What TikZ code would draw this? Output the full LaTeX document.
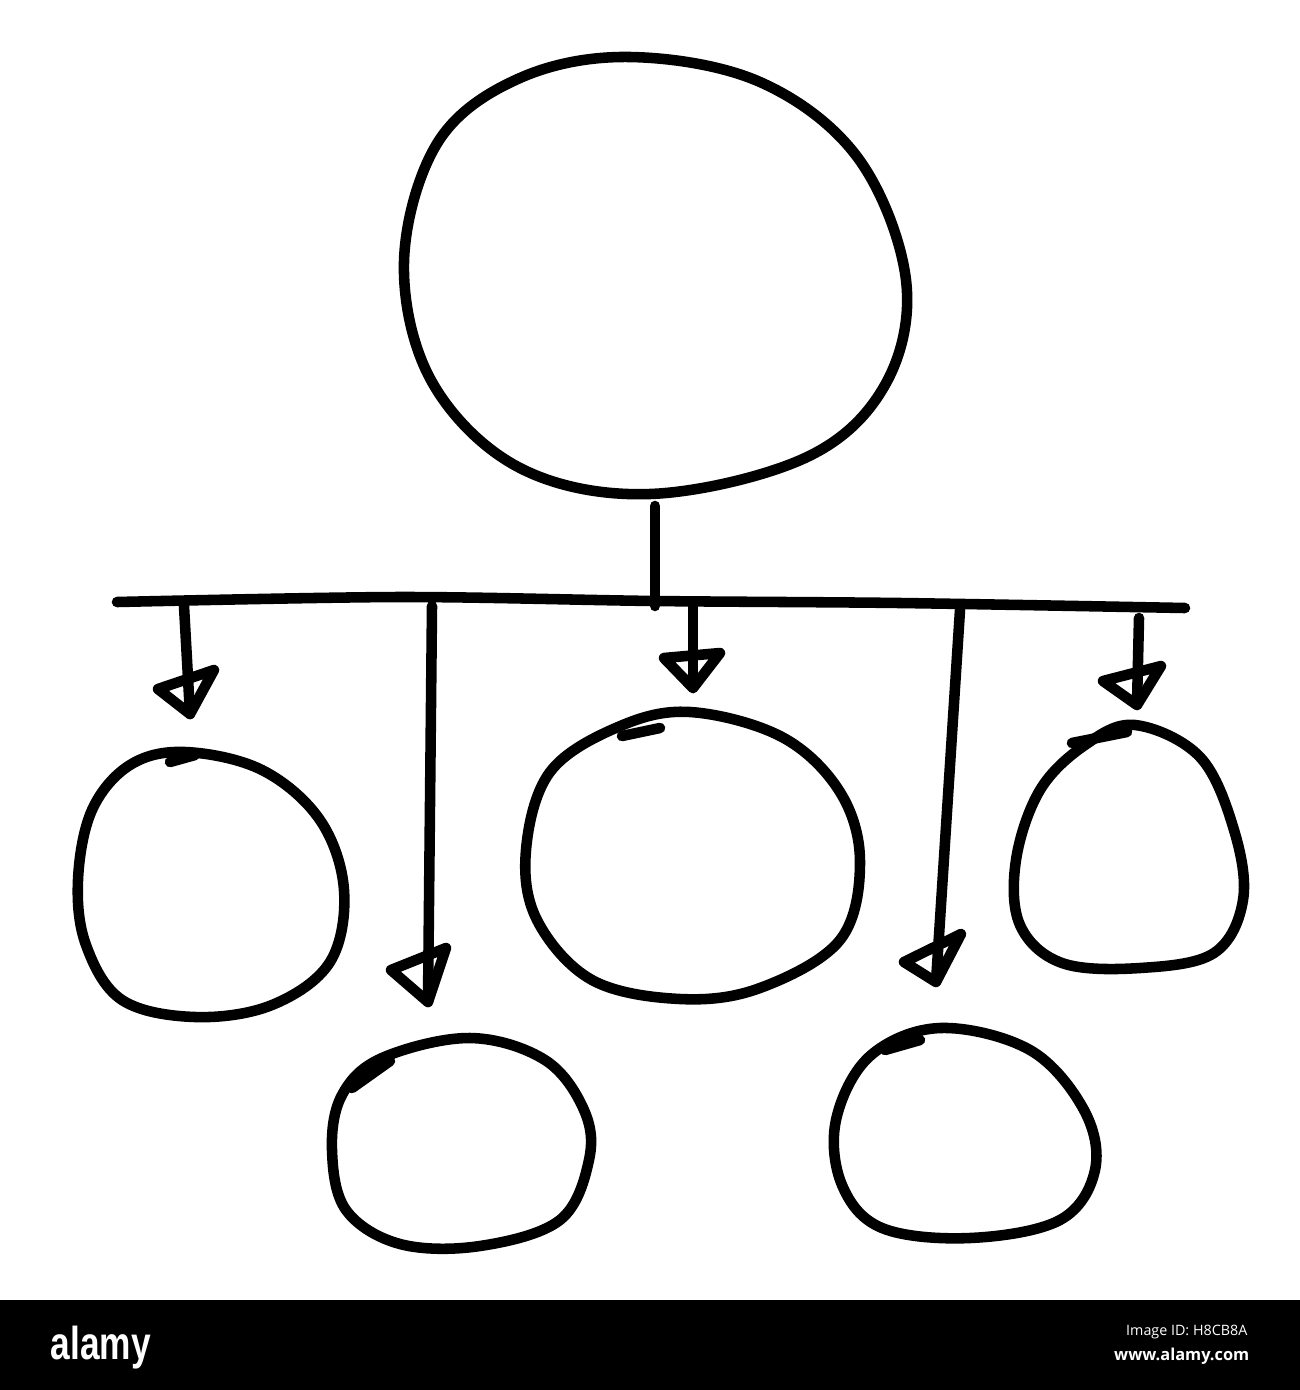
\documentclass[tikz,border=0pt]{standalone}
\usepackage{fontspec}
\setmainfont{Liberation Sans}
\newfontfamily\idfont{Open Sans}
\usepackage{graphicx}
\begin{document}
\begin{tikzpicture}[x=0.01cm,y=-0.01cm,
  ink/.style={line width=3pt,line cap=round,line join=round,black},
  tipbox/.style={ink}]
\useasboundingbox (0,0) rectangle (1300,1390);
\fill[white] (0,0) rectangle (1300,1390);

% node centres
\coordinate (top) at (655,275);
\coordinate (c1) at (210,882);
\coordinate (c2) at (460,1141);
\coordinate (c3) at (692,855);
\coordinate (c4) at (965,1132);
\coordinate (c5) at (1128,846);

% top circle
\draw[ink] plot[smooth cycle,tension=0.6] coordinates {(630,57) (760,82) (858,158) (906,280) (885,385) (805,458) (650,494) (520,468) (432,382) (404,262) (438,142) (520,78)};
% circle 1
\draw[ink] plot[smooth cycle,tension=0.6] coordinates {(185,752) (262,770) (320,820) (344,890) (330,962) (272,1005) (195,1017) (122,1000) (86,945) (78,880) (92,810) (130,765)};
\draw[ink] (170,762) -- (195,755);
% circle 2
\draw[ink] plot[smooth cycle,tension=0.6] coordinates {(470,1038) (545,1060) (584,1110) (589,1160) (560,1220) (480,1246) (400,1244) (346,1210) (332,1150) (342,1095) (382,1058)};
\draw[ink] (352,1088) -- (390,1061);
% circle 3
\draw[ink] plot[smooth cycle,tension=0.6] coordinates {(690,712) (782,737) (840,792) (860,862) (840,940) (760,988) (680,999) (592,980) (537,920) (526,850) (550,772) (618,727)};
\draw[ink] (622,736) -- (660,728);
% circle 4
\draw[ink] plot[smooth cycle,tension=0.6] coordinates {(940,1028) (1030,1050) (1084,1110) (1095,1170) (1060,1220) (970,1238) (882,1228) (842,1185) (836,1120) (870,1056)};
\draw[ink] (885,1050) -- (920,1040);
% circle 5
\draw[ink] plot[smooth cycle,tension=0.6] coordinates {(1135,725) (1200,757) (1234,830) (1243,900) (1214,953) (1140,968) (1062,963) (1020,925) (1016,860) (1040,790) (1085,745)};
\draw[ink] (1072,743) -- (1127,732);

% stem and bar
\coordinate (stemtop) at (655,506);
\coordinate (stembot) at (655,606);
\draw[ink] (stemtop) -- (stembot);
\coordinate (barL) at (117,602);
\coordinate (barR) at (1185,608);
\draw[ink] plot[smooth,tension=0.5] coordinates {(barL) (400,597) (655,601) (900,603) (barR)};

% drops with open triangular heads
\coordinate (d1a) at (184,606);  \coordinate (d1b) at (190,714);
\coordinate (d2a) at (432,606);  \coordinate (d2b) at (428,1002);
\coordinate (d3a) at (693,606);  \coordinate (d3b) at (693,688);
\coordinate (d4a) at (960,610);  \coordinate (d4b) at (936,982);
\coordinate (d5a) at (1139,618); \coordinate (d5b) at (1137,705);
\draw[ink] (d1a) -- (d1b);
\draw[ink] (d2a) -- (d2b);
\draw[ink] (d3a) -- (d3b);
\draw[ink] (d4a) -- (d4b);
\draw[ink] (d5a) -- (d5b);
\draw[tipbox] (158,689) -- (214,670) -- (d1b) -- cycle;
\draw[tipbox] (391,970) -- (446,948) -- (d2b) -- cycle;
\draw[tipbox] (664,658) -- (720,653) -- (d3b) -- cycle;
\draw[tipbox] (904,962) -- (961,934) -- (d4b) -- cycle;
\draw[tipbox] (1103,681) -- (1161,666) -- (d5b) -- cycle;

% watermark bar
\fill[black] (0,1300) rectangle (1300,1390);
\node[white,anchor=north west,inner sep=0pt] (logo) at (50,1325) {\resizebox*{1.0cm}{0.43cm}{\bfseries alamy}};
\node[white,anchor=east,inner sep=0pt] (imgid) at (1248,1332) {\resizebox{1.21cm}{!}{\idfont Image ID: H8CB8A}};
\node[white,anchor=east,inner sep=0pt] (www) at (1250,1356) {\resizebox{1.35cm}{!}{\idfont\bfseries www.alamy.com}};
\end{tikzpicture}
\end{document}
